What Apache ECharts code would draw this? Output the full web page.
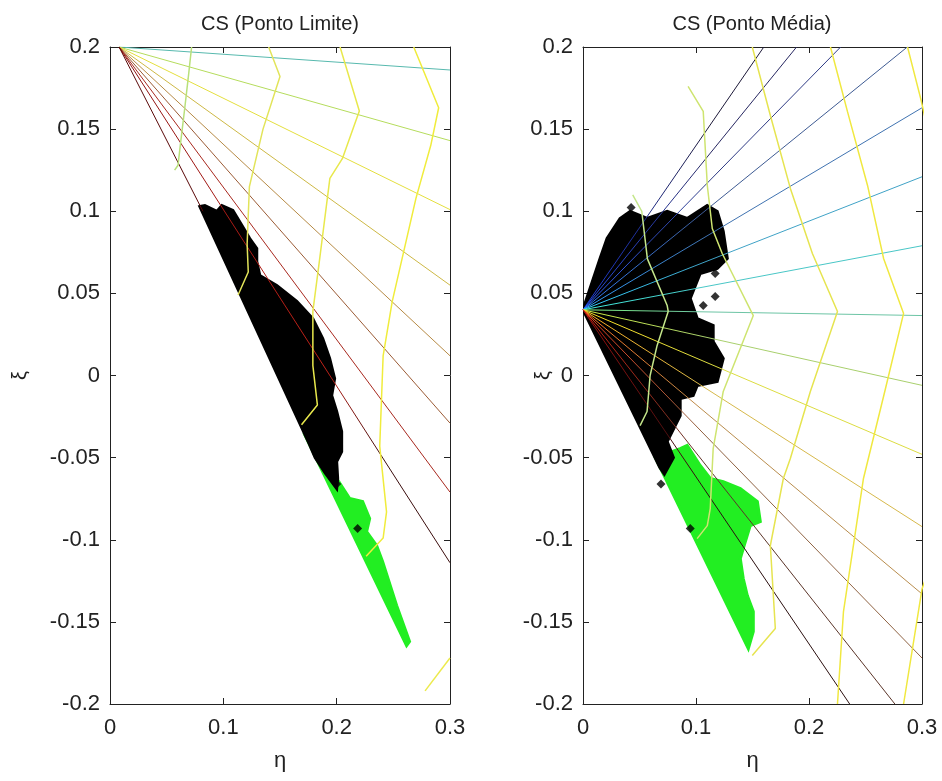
<!DOCTYPE html>
<html>
<head>
<meta charset="utf-8">
<script src="https://cdn.jsdelivr.net/npm/echarts@6/dist/echarts.min.js"></script>
<style>
  html, body { margin: 0; padding: 0; background: #fff; }
  #main { width: 942px; height: 781px; }
</style>
</head>
<body>
<div id="main"></div>
<script>
// ---- left panel: CS (Ponto Limite) ----
var leftOrigin = [0.008, 0.2];
var leftRayEnds = [[0.3, 0.186], [0.3, 0.143], [0.3, 0.101], [0.3, 0.055], [0.3, 0.012],
                   [0.3, -0.029], [0.3, -0.071], [0.3, -0.114], [0.082, 0.1]];
var leftRayColors = ['#57b9ae', '#b5dc5c', '#e4df3e', '#cdb845', '#b68a45',
                     '#9b5b35', '#a8281e', '#3a0c0c', '#5a0808'];
// rays that turn red while crossing the black patch
var leftRayRed = [null, null, null, null, null, null, null, '#c02218', null];

var leftCurve1 = [[0.072, 0.2], [0.069, 0.181], [0.066, 0.163], [0.062, 0.14], [0.06, 0.128], [0.057, 0.125]];
var leftCurve2 = [[0.14, 0.2], [0.15, 0.182], [0.135, 0.15], [0.123, 0.115], [0.121, 0.08], [0.122, 0.063], [0.113, 0.049]];
var leftCurve3 = [[0.203, 0.2], [0.22, 0.161], [0.205, 0.132], [0.194, 0.12], [0.185, 0.071], [0.179, 0.039],
                  [0.179, 0.006], [0.183, -0.018], [0.169, -0.03]];
var leftCurve4 = [[0.268, 0.2], [0.29, 0.163], [0.283, 0.14], [0.27, 0.108], [0.249, 0.045], [0.241, 0.012],
                  [0.238, -0.043], [0.244, -0.083], [0.241, -0.099], [0.226, -0.11]];
var leftCurve5 = [[0.278, -0.192], [0.3, -0.172]];
var leftCurveColors = ['#b8e07a', '#e2e45a', '#e8e84c', '#f0ec3c', '#ecea4c'];

var leftBlack = [[0.0793, 0.1029], [0.0837, 0.1035], [0.0943, 0.0999], [0.0987, 0.1035], [0.1084, 0.1005],
                 [0.1163, 0.0914], [0.1233, 0.0834], [0.1295, 0.0773], [0.1295, 0.0694], [0.1322, 0.0609],
                 [0.1471, 0.0548], [0.1648, 0.0451], [0.1789, 0.0347], [0.1877, 0.0225], [0.1938, 0.0104],
                 [0.1982, -0.0018], [0.1956, -0.0122], [0.2, -0.0219], [0.2044, -0.0341], [0.2044, -0.0463],
                 [0.2, -0.0524], [0.2009, -0.0627], [0.2, -0.0688], [0.19, -0.0595], [0.181, -0.05], [0.176, -0.042]];
var leftGreen = [[0.176, -0.042], [0.185, -0.05], [0.2, -0.0627], [0.2115, -0.0749], [0.2229, -0.0767],
                 [0.2291, -0.0871], [0.2264, -0.095], [0.2352, -0.1035], [0.2405, -0.1133], [0.2529, -0.14],
                 [0.2643, -0.162], [0.2617, -0.1644]];
var leftDots = [[0.2185, -0.0932], [0.2, -0.066]];

// ---- right panel: CS (Ponto Média) ----
var rightOrigin = [0, 0.04];
var rightRayEnds = [[0.16, 0.2], [0.189, 0.2], [0.228, 0.2], [0.287, 0.2], [0.3, 0.163], [0.3, 0.121],
                    [0.3, 0.079], [0.3, 0.0365], [0.3, -0.006], [0.3, -0.048], [0.3, -0.092], [0.3, -0.133],
                    [0.3, -0.172], [0.276, -0.2], [0.236, -0.2]];
var rightRayColors = ['#1c1838', '#262660', '#2e3a84', '#3d5a92', '#3f72b0', '#3fa2c6', '#48c6c6', '#6cc4a4',
                      '#a8cf6c', '#dcdc40', '#d6b84a', '#b88c4c', '#8e6242', '#5a3428', '#2a0e0e'];
var rightRayBright = ['#2040e0', '#2850f0', '#3060ff', '#3080ff', '#30a0ff', '#30d0ff', '#40f0e0', '#80f080',
                      '#d0f040', '#ffe020', '#ffb020', '#ff7020', '#f04020', '#d02010', '#a01010'];

var rightCurve0 = [[0.044, 0.11], [0.052, 0.1], [0.057, 0.071], [0.0745, 0.0426], [0.0754, 0.039],
                   [0.0656, 0.0183], [0.0594, 0], [0.0567, -0.0219], [0.0505, -0.0305]];
var rightCurve1 = [[0.093, 0.176], [0.1064, 0.1608], [0.11, 0.1157], [0.1144, 0.0895], [0.1232, 0.0743],
                   [0.1507, 0.0365], [0.1241, -0.0097], [0.1152, -0.0445], [0.1126, -0.081], [0.11, -0.0914],
                   [0.101, -0.0993]];
var rightCurve2 = [[0.1498, 0.2], [0.1658, 0.1583], [0.1835, 0.1139], [0.203, 0.0743], [0.2252, 0.039],
                   [0.2012, -0.0097], [0.1835, -0.0505], [0.1773, -0.0627], [0.1658, -0.1035], [0.1702, -0.154],
                   [0.1498, -0.1705]];
var rightCurve3 = [[0.219, 0.2], [0.234, 0.1608], [0.2518, 0.1157], [0.266, 0.0713], [0.2837, 0.0378],
                   [0.2677, -0.0079], [0.2482, -0.0627], [0.2305, -0.1437], [0.2252, -0.2]];
var rightCurve4a = [[0.2872, 0.2], [0.2988, 0.1687], [0.305, 0.15]];
var rightCurve4b = [[0.305, -0.12], [0.3, -0.13], [0.2837, -0.2]];
var rightCurveColors = ['#c4e68a', '#cee470', '#e6e450', '#f0e840', '#f0e840', '#f0e840'];

var rightBlack = [[0, 0.0402], [0.0151, 0.0713], [0.0213, 0.0834], [0.0328, 0.0956], [0.0417, 0.0999],
                  [0.0567, 0.0956], [0.0745, 0.0999], [0.0922, 0.0956], [0.1099, 0.1035], [0.1188, 0.0999],
                  [0.1241, 0.0877], [0.1277, 0.0713], [0.1188, 0.0652], [0.1037, 0.0621], [0.0949, 0.0469],
                  [0.1011, 0.0347], [0.1152, 0.0305], [0.1152, 0.0207], [0.1241, 0.0104], [0.1188, -0.0037],
                  [0.1011, -0.0061], [0.0975, -0.0122], [0.086, -0.014], [0.086, -0.0244], [0.0745, -0.0402],
                  [0.08, -0.05], [0.072, -0.06], [0.068, -0.056]];
var rightGreen = [[0.064, -0.05], [0.086, -0.0445], [0.0922, -0.0426], [0.1037, -0.0548], [0.1126, -0.0627],
                  [0.1241, -0.0646], [0.1392, -0.0688], [0.1543, -0.0767], [0.1569, -0.0889], [0.148, -0.0914],
                  [0.1418, -0.1054], [0.1392, -0.1115], [0.1418, -0.1236], [0.1454, -0.134], [0.1507, -0.1437],
                  [0.1507, -0.1559], [0.1463, -0.1663]];
var rightDots = [[0.0426, 0.1023], [0.117, 0.0621], [0.117, 0.0481], [0.1064, 0.0426], [0.0949, -0.0932], [0.069, -0.066]];

var titles = ['CS (Ponto Limite)', 'CS (Ponto Média)'];

var font = 'Liberation Sans, Arial, sans-serif';
var ink = '#222';

function fmt(v) {
  var s = +v.toFixed(2);
  return s === 0 ? '0' : String(s);
}

function region(g, pts, color) {
  return {
    type: 'custom', xAxisIndex: g, yAxisIndex: g, data: pts, clip: true, silent: true, z: 2,
    renderItem: function (params, api) {
      if (params.dataIndex !== 0) return null;
      return {
        type: 'polygon',
        shape: { points: pts.map(function (p) { return api.coord(p); }) },
        style: { fill: color, stroke: color, lineWidth: 3, lineJoin: 'miter' }
      };
    }
  };
}

function line(g, pts, color, width, z) {
  return {
    type: 'line', xAxisIndex: g, yAxisIndex: g, data: pts, symbol: 'none', silent: true,
    lineStyle: { color: color, width: width }, z: z, clip: true
  };
}

function dots(g, pts) {
  return {
    type: 'scatter', xAxisIndex: g, yAxisIndex: g, data: pts, symbol: 'diamond', symbolSize: 9,
    itemStyle: { color: '#000' }, silent: true, z: 3
  };
}

var series = [];
// left panel
series.push(region(0, leftGreen, '#22ee22'));
series.push(region(0, leftBlack, '#000'));
series.push(dots(0, leftDots));
leftRayEnds.forEach(function (e, i) {
  var c = leftRayColors[i];
  if (leftRayRed[i]) {
    c = new echarts.graphic.LinearGradient(0, 0, 1, 0, [
      { offset: 0, color: '#8a1010' },
      { offset: 0.62, color: leftRayRed[i] },
      { offset: 0.8, color: leftRayColors[i] },
      { offset: 1, color: leftRayColors[i] }
    ]);
  }
  series.push(line(0, [leftOrigin, e], c, 1, 4));
});
[leftCurve1, leftCurve2, leftCurve3, leftCurve4, leftCurve5].forEach(function (c, i) {
  series.push(line(0, c, leftCurveColors[i], 1.5, 5));
});
// right panel
series.push(region(1, rightGreen, '#22ee22'));
series.push(region(1, rightBlack, '#000'));
series.push(dots(1, rightDots));
rightRayEnds.forEach(function (e, i) {
  var off = Math.min(0.9, 0.11 / e[0]);
  var c = new echarts.graphic.LinearGradient(0, 0, 1, 0, [
    { offset: 0, color: rightRayBright[i] },
    { offset: off, color: rightRayColors[i] },
    { offset: 1, color: rightRayColors[i] }
  ]);
  series.push(line(1, [rightOrigin, e], c, 1, 4));
});
[rightCurve0, rightCurve1, rightCurve2, rightCurve3, rightCurve4a, rightCurve4b].forEach(function (c, i) {
  series.push(line(1, c, rightCurveColors[i], 1.5, 5));
});

var grids = [
  { left: 110, top: 47, width: 340, height: 657 },
  { left: 583, top: 47, width: 339, height: 657 }
];

function xAxisFor(g, top) {
  return {
    type: 'value', gridIndex: g, min: 0, max: 0.3, interval: 0.1, position: top ? 'top' : 'bottom',
    axisLine: { show: true, onZero: false, lineStyle: { color: ink, width: 1 } },
    axisTick: { show: true, inside: true, length: 6, lineStyle: { color: ink } },
    axisLabel: { show: !top, fontFamily: font, fontSize: 22, color: ink, margin: 13, formatter: fmt },
    splitLine: { show: false },
    name: top ? '' : 'η', nameLocation: 'middle', nameGap: 46,
    nameTextStyle: { fontFamily: font, fontSize: 22, color: ink }
  };
}

function yAxisFor(g, right) {
  return {
    type: 'value', gridIndex: g, min: -0.2, max: 0.2, interval: 0.05, position: right ? 'right' : 'left',
    axisLine: { show: true, onZero: false, lineStyle: { color: ink, width: 1 } },
    axisTick: { show: true, inside: true, length: 6, lineStyle: { color: ink } },
    axisLabel: { show: !right, fontFamily: font, fontSize: 22, color: ink, margin: 10, formatter: fmt },
    splitLine: { show: false },
    name: right ? '' : 'ξ', nameLocation: 'middle', nameRotate: 90, nameGap: g === 0 ? 80 : 30,
    nameMoveOverlap: false,
    nameTextStyle: { fontFamily: font, fontSize: 20, color: ink }
  };
}

var chart = echarts.init(document.getElementById('main'), null, { renderer: 'canvas' });
chart.setOption({
  animation: false,
  backgroundColor: '#fff',
  grid: grids,
  xAxis: [xAxisFor(0, false), xAxisFor(1, false), xAxisFor(0, true), xAxisFor(1, true)],
  yAxis: [yAxisFor(0, false), yAxisFor(1, false), yAxisFor(0, true), yAxisFor(1, true)],
  graphic: titles.map(function (t, i) {
    return {
      type: 'text', x: i === 0 ? 280 : 752, y: 24,
      style: { text: t, align: 'center', verticalAlign: 'middle', fontFamily: font, fontSize: 20, fill: ink }
    };
  }),
  series: series
});
</script>
</body>
</html>
